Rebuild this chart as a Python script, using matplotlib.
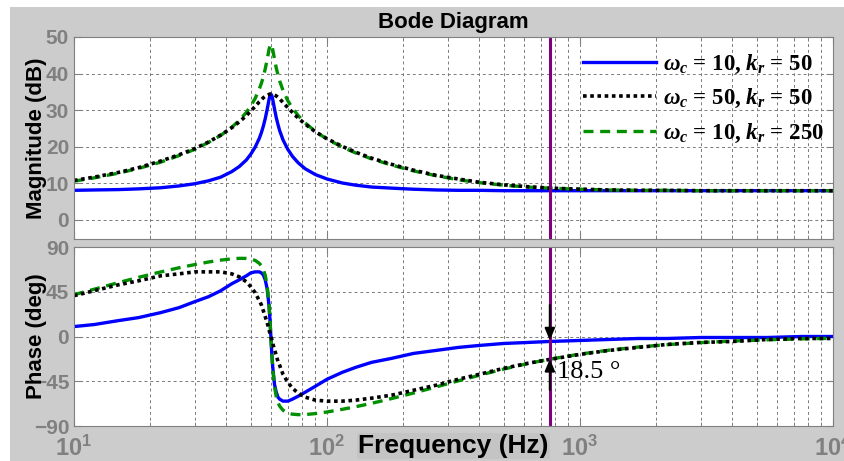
import matplotlib
matplotlib.use('Agg')
import matplotlib.pyplot as plt
from matplotlib.patches import Rectangle
from matplotlib.ticker import NullFormatter

plt.rcParams['font.family'] = 'Liberation Sans'
plt.rcParams['font.weight'] = 'bold'
plt.rcParams['mathtext.fontset'] = 'custom'
plt.rcParams['mathtext.bf'] = 'Liberation Sans:bold'
plt.rcParams['mathtext.rm'] = 'Liberation Serif:bold'
plt.rcParams['mathtext.it'] = 'Liberation Serif:italic:bold'

# frequency points (Hz)
freq = [10, 12, 15, 18, 22, 26, 30, 34, 38, 42, 45, 48, 50, 52, 54, 55, 56, 57, 58, 59,
        59.5, 60, 60.5, 61, 62, 63, 64, 65, 67, 70, 73, 77, 82, 90, 100, 115, 130, 150, 180, 220,
        270, 330, 400, 500, 620, 760, 1000, 1300, 1700, 2200, 3000, 4000, 5500, 7500, 10000]

# wc = 10, kr = 50
mag_a = [8.1, 8.2, 8.3, 8.5, 8.8, 9.3, 9.9, 10.7, 11.7, 13.2, 14.6, 16.4, 18.0, 19.9, 22.3, 23.8, 25.6, 27.7, 30.2, 32.9,
         34.0, 34.4, 34.0, 33.0, 30.4, 28.0, 26.1, 24.4, 21.9, 19.3, 17.4, 15.6, 14.0, 12.4, 11.2, 10.1, 9.5, 9.0, 8.7, 8.4,
         8.2, 8.1, 8.1, 8.0, 8.0, 8.0, 8.0, 8.0, 8.0, 8.0, 8.0, 8.0, 8.0, 8.0, 8.0]
ph_a = [10, 12, 16, 19, 24, 29, 35, 40, 46, 53, 57, 61, 64, 65, 65, 64, 62, 57, 48, 31,
        17, 0, -17, -30, -48, -56, -61, -63, -65, -65, -63, -60, -56, -50, -43, -36, -31, -26, -22, -17,
        -14, -11, -9, -7, -6, -5, -4, -3, -2, -2, -1, -1, -1, 0, 0]

# wc = 50, kr = 50
mag_b = [10.8, 11.7, 13.0, 14.3, 16.1, 17.8, 19.5, 21.3, 23.2, 25.2, 26.8, 28.5, 29.8, 31.0, 32.3, 32.8, 33.4, 33.8, 34.1, 34.3,
         34.4, 34.4, 34.4, 34.3, 34.1, 33.9, 33.5, 33.1, 32.1, 30.7, 29.4, 27.8, 26.2, 24.1, 22.2, 20.1, 18.5, 16.9, 15.2, 13.6,
         12.2, 11.2, 10.3, 9.6, 9.1, 8.7, 8.4, 8.2, 8.1, 8.1, 8.0, 8.0, 8.0, 8.0, 8.0]
ph_b = [41, 46, 52, 56, 61, 63, 65, 65, 65, 63, 60, 55, 50, 44, 36, 32, 26, 20, 14, 7,
        3, 0, -3, -7, -13, -19, -25, -29, -38, -46, -52, -57, -61, -64, -65, -65, -64, -62, -59, -54,
        -49, -43, -38, -32, -27, -23, -18, -14, -11, -8, -6, -5, -3, -2, -2]

# wc = 10, kr = 250
mag_c = [10.6, 11.5, 12.8, 14.1, 15.8, 17.6, 19.3, 21.2, 23.1, 25.3, 27.2, 29.4, 31.2, 33.2, 35.8, 37.3, 39.1, 41.3, 43.8, 46.6,
         47.6, 48.0, 47.6, 46.6, 44.0, 41.6, 39.6, 38.0, 35.4, 32.6, 30.6, 28.5, 26.5, 24.2, 22.1, 19.9, 18.3, 16.7, 15.0, 13.4,
         12.1, 11.0, 10.2, 9.5, 9.0, 8.7, 8.4, 8.2, 8.1, 8.1, 8.0, 8.0, 8.0, 8.0, 8.0]
ph_c = [42.0, 47.5, 54.2, 59.5, 64.9, 69.1, 72.3, 74.9, 76.8, 78.1, 78.6, 78.5, 77.9, 76.5, 73.6, 71.2, 67.5, 61.6, 51.2, 32.0,
        17.3, 0.0, -17.2, -31.6, -50.3, -60.4, -66.3, -70.0, -74.1, -77.0, -78.1, -78.6, -78.5, -77.5, -75.9, -73.2, -70.6, -67.2, -62.4, -56.8,
        -50.7, -44.6, -39.0, -32.7, -27.3, -22.8, -17.7, -13.8, -10.6, -8.2, -6.1, -4.6, -3.3, -2.4, -1.8]

labels = [r'$\omega_c$ = 10, $k_r$ = 50', r'$\omega_c$ = 50, $k_r$ = 50', r'$\omega_c$ = 10, $k_r$ = 250']

# marker frequency and the phase gap read at it
f_mark = 760
ph_top = -4
ph_bot = -22.5
gap_text = '18.5 °'

fig = plt.figure(figsize=(8.44, 4.61), dpi=100)
fig.add_artist(Rectangle((10 / 844, 0), 1, 1 - 7 / 461, transform=fig.transFigure,
                         facecolor='#cccccc', edgecolor='none', zorder=-1))

ax1 = fig.add_axes([74 / 844, 1 - 239 / 461, 759 / 844, 202 / 461])
ax2 = fig.add_axes([74 / 844, 1 - 426 / 461, 759 / 844, 179 / 461])

gray = '#808080'
for ax in (ax1, ax2):
    ax.set_xscale('log')
    ax.set_xlim(10, 10000)
    ax.grid(True, which='both', linestyle=(0, (3, 3)), color='#7a7a7a', linewidth=0.7)
    ax.tick_params(which='both', direction='in', top=True, right=True, color=gray,
                   labelcolor=gray, labelsize=15)
    ax.tick_params(which='major', length=5)
    ax.tick_params(which='minor', length=3)
    ax.xaxis.set_minor_formatter(NullFormatter())
    for sp in ax.spines.values():
        sp.set_color(gray)

# magnitude
l_a, = ax1.plot(freq, mag_a, color='#0000ff', lw=2.4, zorder=2)
l_c, = ax1.plot(freq, mag_c, color='#009000', lw=2.4, dashes=(3, 2), zorder=2.1)
l_b, = ax1.plot(freq, mag_b, color='black', lw=2.6, dashes=(1, 1), zorder=2.2)
ax1.axvline(f_mark, color='#800080', lw=2.2, zorder=2.5)
ax1.set_ylim(-5.2, 50)
ax1.set_yticks([0, 10, 20, 30, 40, 50])
ax1.tick_params(labelbottom=False)
ax1.set_title('Bode Diagram', fontsize=16, fontweight='bold', pad=6.5)
ax1.set_ylabel('Magnitude (dB)', fontsize=16, fontweight='bold')
ax1.yaxis.set_label_coords(-0.0356, 0.5)
ax1.legend([l_a, l_b, l_c], labels, loc='upper left', bbox_to_anchor=(0.655, 0.98),
           frameon=False, borderpad=0, handlelength=3.2, handletextpad=0.3, labelspacing=0.5,
           prop={'family': 'Liberation Serif', 'weight': 'bold', 'size': 16.5})

# phase
ax2.plot(freq, ph_a, color='#0000ff', lw=2.4, zorder=2)
ax2.plot(freq, ph_c, color='#009000', lw=2.4, dashes=(3, 2), zorder=2.1)
ax2.plot(freq, ph_b, color='black', lw=2.6, dashes=(1, 1), zorder=2.2)
ax2.axvline(f_mark, color='#800080', lw=2.2, zorder=2.5)
ax2.set_ylim(-90, 90)
ax2.set_yticks([-90, -45, 0, 45, 90])
ax2.set_xticks([10, 100, 1000, 10000],
               [r'$\mathbf{10^{1}}$', r'$\mathbf{10^{2}}$', r'$\mathbf{10^{3}}$', r'$\mathbf{10^{4}}$'])
ax2.tick_params(axis='x', pad=7, labelsize=17)
ax2.set_ylabel('Phase (deg)', fontsize=16, fontweight='bold')
ax2.yaxis.set_label_coords(-0.0356, 0.5)
ax2.set_xlabel('Frequency (Hz)', fontsize=19, fontweight='bold', color='black',
               bbox=dict(facecolor='#c4c4c4', edgecolor='none', pad=1))
ax2.xaxis.set_label_coords(0.5, -0.045)

arrow = dict(arrowstyle='-|>,head_length=0.6,head_width=0.25', color='black', lw=1.5,
             mutation_scale=12, shrinkA=0, shrinkB=0)
ax2.annotate('', xy=(f_mark, ph_top), xytext=(f_mark, 31.7), arrowprops=arrow, zorder=3)
ax2.annotate('', xy=(f_mark, ph_bot), xytext=(f_mark, -53.8), arrowprops=arrow, zorder=3)
ax2.text(811, -41.8, gap_text, fontsize=19, family='Liberation Serif', fontweight='normal',
         va='baseline', zorder=3)

fig.savefig('out.png', dpi=100)
